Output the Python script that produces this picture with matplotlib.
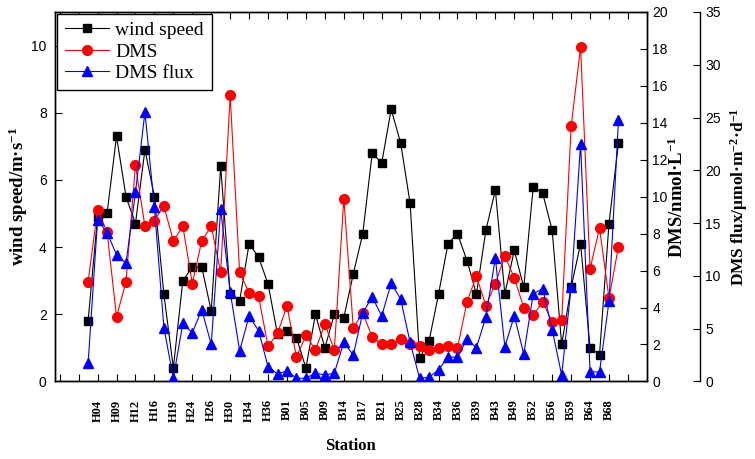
import numpy as np
import matplotlib
matplotlib.use('Agg')
import matplotlib.pyplot as plt

plt.rcParams['font.family'] = ['Liberation Serif', 'DejaVu Serif']
plt.rcParams['mathtext.fontset'] = 'custom'
plt.rcParams['mathtext.rm'] = 'Liberation Serif:bold'
plt.rcParams['mathtext.it'] = 'Liberation Serif:bold:italic'
plt.rcParams['mathtext.bf'] = 'Liberation Serif:bold'

# station labels (every second station is labelled on the axis)
tick_labels = ['H04', 'H09', 'H12', 'H16', 'H19', 'H24', 'H26', 'H30', 'H34', 'H36',
               'B01', 'B05', 'B09', 'B14', 'B17', 'B21', 'B25', 'B28', 'B34', 'B36',
               'B39', 'B43', 'B49', 'B52', 'B56', 'B59', 'B64', 'B68']

wind = [1.8, 4.9, 5.0, 7.3, 5.5, 4.7, 6.9, 5.5, 2.6, 0.4,
        3.0, 3.4, 3.4, 2.1, 6.4, 2.6, 2.4, 4.1, 3.7, 2.9,
        1.4, 1.5, 1.3, 0.4, 2.0, 1.0, 2.0, 1.9, 3.2, 4.4,
        6.8, 6.5, 8.1, 7.1, 5.3, 0.7, 1.2, 2.6, 4.1, 4.4,
        3.6, 2.6, 4.5, 5.7, 2.6, 3.9, 2.8, 5.8, 5.6, 4.5,
        1.1, 2.8, 4.1, 1.0, 0.8, 4.7, 7.1]

dms = [5.4, 9.3, 8.1, 3.5, 5.4, 11.7, 8.4, 8.7, 9.5, 7.6,
       8.4, 5.3, 7.6, 8.4, 5.9, 15.5, 5.9, 4.8, 4.6, 1.9,
       2.6, 4.1, 1.3, 2.5, 1.7, 3.1, 1.7, 9.9, 2.9, 3.7,
       2.4, 2.0, 2.0, 2.3, 2.0, 1.9, 1.7, 1.8, 1.9, 1.8,
       4.3, 5.7, 4.1, 5.3, 6.8, 5.6, 4.0, 3.6, 4.3, 3.2,
       3.3, 13.8, 18.1, 6.1, 8.3, 4.5, 7.3]

flux = [1.7, 15.3, 14.1, 12.0, 11.2, 17.9, 25.5, 16.5, 5.1, 0.3,
        5.5, 4.6, 6.8, 3.5, 16.3, 8.5, 2.9, 6.2, 4.8, 1.4,
        0.7, 1.0, 0.3, 0.3, 0.8, 0.6, 0.8, 3.7, 2.5, 6.5,
        8.0, 6.2, 9.3, 7.8, 3.7, 0.3, 0.4, 1.1, 2.3, 2.3,
        4.0, 3.2, 6.1, 11.7, 3.3, 6.2, 2.6, 8.3, 8.8, 4.9,
        0.6, 8.9, 22.5, 0.9, 0.9, 7.6, 24.8]

x = np.arange(1, len(wind) + 1)

fig = plt.figure(figsize=(7.55, 4.59), dpi=100)
ax = fig.add_axes([0.0728, 0.169, 0.784, 0.805])
ax2 = ax.twinx()
ax3 = ax.twinx()
ax3.spines['right'].set_position(('outward', 38))
for s in ['top', 'left', 'bottom']:
    ax3.spines[s].set_visible(False)

l1, = ax.plot(x, wind, color='black', marker='s', ms=6, lw=0.8, label='wind speed')
l2, = ax2.plot(x, dms, color='red', marker='o', ms=7, lw=0.8, label='DMS')
l3, = ax3.plot(x, flux, color='blue', marker='^', ms=7.5, lw=0.8, label='DMS flux')

ax.set_xlim(-2.5, 60)
ax.set_ylim(0, 11)
ax2.set_ylim(0, 20)
ax3.set_ylim(0, 35)

ticks = np.arange(-2, 61, 2)
labels = []
for t in ticks:
    if 2 <= t <= 56:
        labels.append(tick_labels[t // 2 - 1])
    else:
        labels.append('')
ax.set_xticks(ticks)
ax.set_xticklabels(labels, rotation=90, fontweight='bold', fontsize=9)
ax.set_yticks([0, 2, 4, 6, 8, 10])
ax2.set_yticks(np.arange(0, 21, 2))
ax3.set_yticks(np.arange(0, 36, 5))

ax.tick_params(axis='x', direction='in', top=True, length=5, width=0.8, pad=13)
ax.tick_params(axis='y', direction='in', length=5, width=0.8, pad=6)
ax2.tick_params(axis='y', direction='in', length=5, width=0.8, pad=4)
ax3.tick_params(axis='y', direction='in', length=5, width=0.8, pad=4)
for a in (ax, ax2, ax3):
    for lab in a.get_yticklabels():
        lab.set_fontfamily('Liberation Sans')
        lab.set_fontsize(10)
    for sp in a.spines.values():
        sp.set_linewidth(1.0)

ax.set_xlabel('Station', fontweight='bold', fontsize=12, labelpad=12)
ax.set_ylabel('wind speed/m·s$^{-1}$', fontweight='bold', fontsize=13.5, labelpad=1)
ax2.set_ylabel('DMS/nmol·L$^{-1}$', fontweight='bold', fontsize=13.5, labelpad=0)
ax3.set_ylabel('DMS flux/μmol·m$^{-2}$·d$^{-1}$', fontweight='bold', fontsize=12.5, labelpad=5)

leg = ax3.legend(handles=[l1, l2, l3], loc='upper left', fontsize=14, frameon=True,
                 fancybox=False, edgecolor='black', framealpha=1, borderaxespad=0.1,
                 borderpad=0.4, handlelength=2.3, handletextpad=0.3, labelspacing=0.2)
leg.get_frame().set_linewidth(1.0)

fig.savefig('out.png', dpi=100)
